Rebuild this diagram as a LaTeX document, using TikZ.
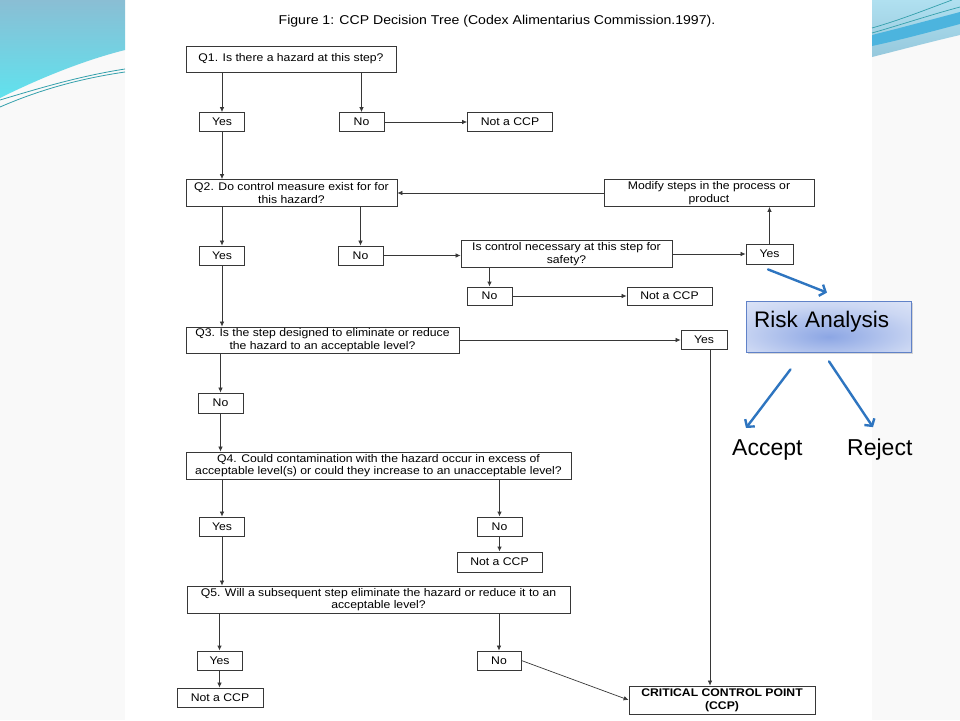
\documentclass[tikz,border=0pt]{standalone}
\usepackage{fontspec}
\setmainfont{Liberation Sans}
\newfontfamily\chartfont[FakeStretch=1.1]{Liberation Sans}
\newcommand{\chartsize}{\chartfont\fontsize{11.1pt}{12.6pt}\selectfont}
\usetikzlibrary{positioning, arrows.meta, shadows}
\definecolor{swtop}{RGB}{138, 190, 212}
\definecolor{swbottom}{RGB}{96, 226, 238}
\definecolor{swline}{RGB}{52, 160, 172}
\definecolor{swlight}{RGB}{176, 224, 240}
\definecolor{swband}{RGB}{76, 180, 222}
\definecolor{riskblue}{RGB}{140, 166, 228}
\definecolor{riskedge}{RGB}{96, 130, 200}
\definecolor{arrowblue}{RGB}{46, 117, 192}
\definecolor{chartgray}{RGB}{55, 55, 55}
\pgfdeclareradialshading{riskshade}{\pgfpoint{0bp}{-10bp}}{color(0bp)=(riskblue); color(28bp)=(riskblue!45!white); color(60bp)=(riskblue!8!white); color(100bp)=(white)}

\begin{document}
\begin{tikzpicture}[x=1pt, y=-1pt,
        box/.style={draw=chartgray, line width=0.8pt, fill=white, text=black, align=center, inner sep=1pt, font=\chartsize},
        answer/.style={box, minimum width=45pt, minimum height=19pt},
        notccp/.style={box, minimum width=85pt, minimum height=19pt},
        link/.style={draw=chartgray, line width=0.7pt, -{Latex[length=5pt, width=4.5pt]}},
        heavy/.style={link, line width=1.3pt},
        riskbox/.style={draw=riskedge, line width=0.8pt, shading=riskshade, drop shadow={shadow xshift=1.5pt, shadow yshift=-1.5pt, opacity=0.3},
            minimum width=165pt, minimum height=51pt, text width=149pt, align=left, inner xsep=8pt, inner ysep=0pt,
            text height=26pt, text depth=25pt, font=\fontsize{22.5pt}{26pt}\selectfont},
        outcome/.style={inner sep=0pt, font=\fontsize{23pt}{26pt}\selectfont},
        bluearrow/.style={draw=arrowblue, line width=2.4pt, line cap=round, -{Straight Barb[length=5pt, width=12pt]}}]
                \useasboundingbox (0, 0) rectangle (960, 720);

                % Slide background
                \fill[gray!5] (0, 0) rectangle (960, 720);
                \fill[white] (125, 0) rectangle (872, 720);
                \shade[top color=swtop, bottom color=swbottom] (0, 0) -- (125, 0) -- (125, 50) .. controls (85, 60) and (40, 78) .. (0, 98) -- cycle;
                \draw[swline, line width=0.8pt] (0, 100) .. controls (40, 88) and (80, 76) .. (125, 69);
                \draw[swline, line width=0.8pt] (0, 107) .. controls (30, 94) and (70, 80) .. (125, 72);
                \shade[top color=swlight, bottom color=swtop!70!swlight] (872, 0) -- (960, 0) -- (960, 35) .. controls (930, 42) and (900, 50) .. (872, 57) -- cycle;
                \fill[swband] (872, 35) .. controls (900, 28) and (930, 20) .. (960, 12) -- (960, 24) .. controls (930, 32) and (900, 40) .. (872, 46) -- cycle;
                \draw[swline, line width=0.7pt] (872, 28) .. controls (900, 20) and (925, 10) .. (952, 0);
                \draw[swline, line width=0.7pt] (872, 33) .. controls (900, 25) and (930, 15) .. (960, 7);

                % Title
                \node[font=\chartfont\fontsize{12.8pt}{14pt}\selectfont, text=black] (title) at (497, 21) {Figure 1: CCP Decision Tree (Codex Alimentarius Commission.1997).};

                % Nodes
                \node[box, minimum width=210pt, minimum height=26pt] (q1) at (291, 59) {Q1. Is there a hazard at this step?};
                \node[answer] (y1) at (222, 122) {Yes};
                \node[answer] (n1) at (361.5, 122) {No};
                \node[notccp] (nc1) at (510, 122) {Not a CCP};

                \node[box, minimum width=211pt, minimum height=27pt] (q2) at (291.5, 193) {Q2. Do control measure exist for for\\this hazard?};
                \node[box, minimum width=210pt, minimum height=27pt] (mod) at (709, 193) {Modify steps in the process or\\product};
                \node[answer] (y2) at (222, 255.5) {Yes};
                \node[answer] (n2) at (360.5, 255.5) {No};
                \node[box, minimum width=211pt, minimum height=27pt] (ctl) at (566.5, 254) {Is control necessary at this step for\\safety?};
                \node[answer, minimum width=47pt, minimum height=20pt] (y2b) at (769.5, 254) {Yes};
                \node[answer, minimum height=18pt] (n2b) at (489.5, 296) {No};
                \node[notccp, minimum height=18pt] (nc2) at (669.5, 296) {Not a CCP};

                \node[box, minimum width=273pt, minimum height=26pt] (q3) at (322.5, 340) {Q3. Is the step designed to eliminate or reduce\\the hazard to an acceptable level?};
                \node[answer, minimum width=46pt] (y3) at (704, 339.5) {Yes};
                \node[answer, minimum height=20pt] (n3) at (220.5, 403) {No};

                \node[box, minimum width=385pt, minimum height=27pt] (q4) at (378.5, 465.5) {Q4. Could contamination with the hazard occur in excess of\\acceptable level(s) or could they increase to an unacceptable level?};
                \node[answer] (y4) at (222, 526.5) {Yes};
                \node[answer] (n4) at (499.5, 526.5) {No};
                \node[notccp, minimum height=20pt] (nc4) at (499.5, 562) {Not a CCP};

                \node[box, minimum width=383pt, minimum height=27pt] (q5) at (378.5, 599.5) {Q5. Will a subsequent step eliminate the hazard or reduce it to an\\acceptable level?};
                \node[answer] (y5) at (219.5, 660.5) {Yes};
                \node[notccp, minimum width=86pt] (nc5) at (220, 697.5) {Not a CCP};
                \node[answer, minimum width=44pt] (n5) at (499, 660.5) {No};
                \node[box, minimum width=186pt, minimum height=28pt, font=\chartsize\bfseries] (ccp) at (722, 700) {CRITICAL CONTROL POINT\\(CCP)};

                % Edges
                \draw[link] (q1.south -| y1.north) -- (y1.north);
                \draw[link] (q1.south -| n1.north) -- (n1.north);
                \draw[link] (n1.east) -- (nc1.west);
                \draw[link] (y1.south) -- (y1.south |- q2.north);

                \draw[link] (mod.west) -- (q2.east);   % back to Q2
                \draw[link] (q2.south -| y2.north) -- (y2.north);
                \draw[link] (q2.south -| n2.north) -- (n2.north);
                \draw[link] (n2.east) -- (n2.east -| ctl.west);
                \draw[link] (ctl.east) -- (y2b.west);
                \draw[link] (y2b.north) -- (y2b.north |- mod.south);
                \draw[heavy] (ctl.south -| n2b.north) -- (n2b.north);
                \draw[link] (n2b.east) -- (nc2.west);
                \draw[link] (y2.south) -- (y2.south |- q3.north);

                \draw[link] (q3.east) -- (q3.east -| y3.west);
                \draw[link] ([xshift=6pt]y3.south) -- ([xshift=6pt]y3.south |- ccp.north);   % Yes to CCP
                \draw[link] (q3.south -| n3.north) -- (n3.north);
                \draw[link] (n3.south) -- (n3.south |- q4.north);

                \draw[link] (q4.south -| y4.north) -- (y4.north);
                \draw[heavy] (q4.south -| n4.north) -- (n4.north);
                \draw[heavy] (n4.south) -- (nc4.north);
                \draw[link] (y4.south) -- (y4.south |- q5.north);

                \draw[heavy] (q5.south -| y5.north) -- (y5.north);
                \draw[link] (y5.south) -- (y5.south |- nc5.north);
                \draw[link] (q5.south -| n5.north) -- (n5.north);
                \draw[link] (n5.east) -- (ccp.west);

                % Risk analysis
                \node[riskbox] (risk) at (828.5, 326.5) {Risk Analysis};
                \node[outcome, anchor=base west] (accept) at (732, 455) {Accept};
                \node[outcome, anchor=base west] (reject) at (847, 455) {Reject};
                \draw[bluearrow] ([xshift=-1.5pt, yshift=-5pt]y2b.south) -- ([xshift=-1.5pt, yshift=8pt]risk.north);
                \draw[bluearrow] ([xshift=-38pt, yshift=-17pt]risk.south) -- ([xshift=14pt, yshift=11pt]accept.north west);
                \draw[bluearrow] ([xshift=0.5pt, yshift=-9pt]risk.south) -- ([xshift=26pt, yshift=11pt]reject.north west);
            \end{tikzpicture}
\end{document}
